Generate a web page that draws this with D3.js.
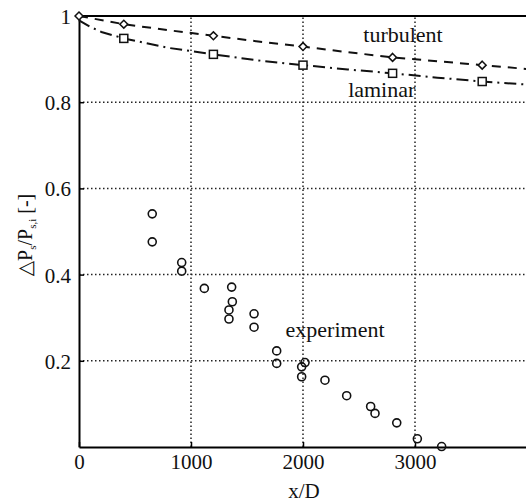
<!DOCTYPE html>
<html>
<head>
<meta charset="utf-8">
<script src="https://cdn.jsdelivr.net/npm/d3@7"></script>
<style>
  body { margin: 0; background: #fff; }
  svg { display: block; }
</style>
</head>
<body>
<script>
// curve data (x/D, dP/P)
var turbX = [0, 400, 800, 1200, 1600, 2000, 2400, 2800, 3200, 3600, 4000];
var turbY = [1.0, 0.981, 0.967, 0.954, 0.941, 0.929, 0.916, 0.904, 0.895, 0.886, 0.877];
var lamX = [0, 100, 200, 400, 800, 1200, 1600, 2000, 2400, 2800, 3200, 3600, 4000];
var lamY = [0.99, 0.975, 0.963, 0.948, 0.926, 0.911, 0.897, 0.886, 0.876, 0.867, 0.857, 0.848, 0.841];
var markX = [400, 1200, 2000, 2800, 3600];
var turbMarkY = [0.981, 0.954, 0.929, 0.904, 0.886];
var lamMarkY = [0.948, 0.911, 0.886, 0.867, 0.848];
// experiment points
var expX = [654, 654, 917, 917, 1119, 1363, 1369, 1339, 1339, 1563, 1563, 1765, 1765, 2018, 1988, 1988, 2196, 2390, 2604, 2643, 2837, 3021, 3238];
var expY = [0.541, 0.476, 0.428, 0.408, 0.368, 0.371, 0.337, 0.318, 0.297, 0.309, 0.278, 0.223, 0.194, 0.196, 0.186, 0.163, 0.155, 0.119, 0.094, 0.078, 0.056, 0.019, 0.001];
var xTicks = [0, 1000, 2000, 3000];
var yTicks = [0.2, 0.4, 0.6, 0.8, 1];

var width = 526, height = 504;
var svg = d3.select("body").append("svg")
    .attr("width", width)
    .attr("height", height);

var x = d3.scaleLinear().domain([0, 4000]).range([79, 527]);
var y = d3.scaleLinear().domain([0, 1]).range([447, 16]);
var font = "Liberation Serif, DejaVu Serif, serif";

//Grid
svg.append("g").selectAll("line")
   .data(xTicks.filter(function(d) { return d > 0; }))
   .enter().append("line")
   .attr("x1", function(d) { return x(d); })
   .attr("x2", function(d) { return x(d); })
   .attr("y1", y(0)).attr("y2", y(1))
   .attr("stroke", "#222").attr("stroke-width", 1.5)
   .attr("stroke-dasharray", "1.5,2.5");
svg.append("g").selectAll("line")
   .data(yTicks.filter(function(d) { return d < 1; }))
   .enter().append("line")
   .attr("y1", function(d) { return y(d); })
   .attr("y2", function(d) { return y(d); })
   .attr("x1", x(0)).attr("x2", x(4000))
   .attr("stroke", "#222").attr("stroke-width", 1.5)
   .attr("stroke-dasharray", "1.5,2.5");

//Axes (ticks inside)
var xAxis = svg.append("g")
  .attr("transform", "translate(0," + y(0) + ")")
  .call(d3.axisBottom(x).tickValues(xTicks).tickSizeInner(-5).tickSizeOuter(0).tickPadding(7).tickFormat(d3.format("d")));
var yAxis = svg.append("g")
  .attr("transform", "translate(" + x(0) + ",0)")
  .call(d3.axisLeft(y).tickValues(yTicks).tickSizeInner(-5).tickSizeOuter(0).tickPadding(8).tickFormat(function(d) { return d === 1 ? "1" : d3.format(".1f")(d); }));
[xAxis, yAxis].forEach(function(a) {
  a.attr("font-family", font).attr("font-size", 21);
  a.select(".domain").attr("stroke", "#000").attr("stroke-width", 2);
  a.selectAll(".tick line").attr("stroke", "#000").attr("stroke-width", 1.5);
  a.selectAll("text").attr("fill", "#111");
});
yAxis.selectAll(".tick text").attr("dy", "0.36em");
//top and right frame
svg.append("line").attr("x1", x(0)).attr("x2", x(4000)).attr("y1", y(1)).attr("y2", y(1))
  .attr("stroke", "#000").attr("stroke-width", 2);
svg.append("line").attr("x1", x(4000)).attr("x2", x(4000)).attr("y1", y(1)).attr("y2", y(0))
  .attr("stroke", "#000").attr("stroke-width", 2);

//Curves
var line = d3.line()
  .x(function(d) { return x(d[0]); })
  .y(function(d) { return y(d[1]); });
svg.append("path")
  .datum(d3.zip(turbX, turbY))
  .attr("d", line)
  .attr("fill", "none").attr("stroke", "#111").attr("stroke-width", 2)
  .attr("stroke-dasharray", "9,7");
svg.append("path")
  .datum(d3.zip(lamX, lamY))
  .attr("d", line)
  .attr("fill", "none").attr("stroke", "#111").attr("stroke-width", 2)
  .attr("stroke-dasharray", "12,5,2,5");

//Markers
svg.append("g").selectAll("path")
   .data(d3.zip([0].concat(markX), [1].concat(turbMarkY)))
   .enter().append("path")
   .attr("d", d3.symbol().type(d3.symbolDiamond2).size(40))
   .attr("transform", function(d) { return "translate(" + x(d[0]) + "," + y(d[1]) + ")"; })
   .attr("fill", "#fff").attr("stroke", "#111").attr("stroke-width", 1.5);
svg.append("g").selectAll("rect")
   .data(d3.zip(markX, lamMarkY))
   .enter().append("rect")
   .attr("x", function(d) { return x(d[0]) - 4; })
   .attr("y", function(d) { return y(d[1]) - 4; })
   .attr("width", 8).attr("height", 8)
   .attr("fill", "#fff").attr("stroke", "#111").attr("stroke-width", 1.5);

//Experiment
svg.append("g").selectAll("circle")
   .data(d3.zip(expX, expY))
   .enter().append("circle")
   .attr("cx", function(d) { return x(d[0]); })
   .attr("cy", function(d) { return y(d[1]); })
   .attr("r", 4)
   .attr("fill", "none").attr("stroke", "#111").attr("stroke-width", 1.6);

//Labels
function label(t, px, py) {
  svg.append("text")
    .attr("x", x(px)).attr("y", y(py))
    .attr("text-anchor", "middle")
    .attr("font-family", font).attr("font-size", 22).attr("fill", "#111")
    .text(t);
}
label("turbulent", 2893, 0.94);
label("laminar", 2703, 0.813);
label("experiment", 2286, 0.256);

svg.append("text")
  .attr("x", 304).attr("y", 498)
  .attr("text-anchor", "middle")
  .attr("font-family", font).attr("font-size", 21).attr("fill", "#111")
  .text("x/D");

var yl = svg.append("text")
  .attr("transform", "translate(32,235) rotate(-90)")
  .attr("text-anchor", "middle")
  .attr("font-family", font).attr("font-size", 20).attr("fill", "#111");
yl.append("tspan").text("△P");
yl.append("tspan").attr("dy", 4).attr("font-size", 11).text("s");
yl.append("tspan").attr("dy", -4).text("/P");
yl.append("tspan").attr("dy", 4).attr("font-size", 11).text("s,i");
yl.append("tspan").attr("dy", -4).text(" [-]");
</script>
</body>
</html>
